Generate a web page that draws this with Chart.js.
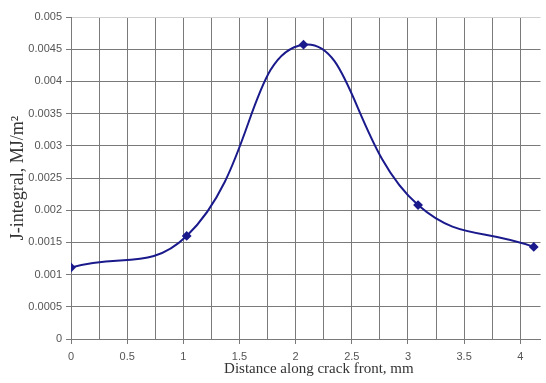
<!DOCTYPE html>
<html>
<head>
<meta charset="utf-8">
<script src="https://cdn.jsdelivr.net/npm/chart.js@4"></script>
<style>
  html, body { margin: 0; padding: 0; background: #fff; }
  #cont { width: 546px; height: 383px; }
</style>
</head>
<body>
<div id="cont"><canvas id="myChart"></canvas></div>
<script>
// distance along crack front (mm) and J-integral (MJ/m2)
const distancia = [0, 1.03, 2.07, 3.09, 4.12];
const integralJ = [0.00111, 0.0016, 0.00457, 0.00208, 0.00143];
const ticksX = [0, 0.5, 1, 1.5, 2, 2.5, 3, 3.5, 4];
const rejillaX = [0, 0.25, 0.5, 0.75, 1, 1.25, 1.5, 1.75, 2, 2.25, 2.5, 2.75, 3, 3.25, 3.5, 3.75, 4];
const ticksY = [0, 0.0005, 0.001, 0.0015, 0.002, 0.0025, 0.003, 0.0035, 0.004, 0.0045, 0.005];

const puntos = distancia.map((d, i) => ({ x: d, y: integralJ[i] }));

function esMayor(v) {
    return ticksX.some(t => Math.abs(t - v) < 1e-6);
}

const ctx = document.getElementById('myChart').getContext('2d');
const myChart = new Chart(ctx, {
    type: 'scatter',
    data: {
        datasets: [{
            data: puntos,
            showLine: true,
            borderColor: '#1a1a8c',
            backgroundColor: '#1a1a8c',
            borderWidth: 2,
            tension: 0.45,
            pointStyle: 'rectRot',
            pointRadius: 3.5,
            pointHoverRadius: 3.5
        }]
    },
    options: {
        responsive: true,
        maintainAspectRatio: false,
        animation: false,
        layout: { padding: { top: 17, right: 0, left: 0, bottom: 0 } },
        plugins: {
            legend: { display: false },
            tooltip: { enabled: false }
        },
        scales: {
            x: {
                type: 'linear',
                min: 0,
                max: 4.18,
                afterBuildTicks: s => { s.ticks = rejillaX.map(v => ({ value: v })); },
                ticks: {
                    autoSkip: false,
                    maxRotation: 0,
                    color: '#555',
                    font: { family: 'Liberation Sans', size: 11 },
                    padding: 6,
                    callback: v => esMayor(v) ? String(v) : ''
                },
                grid: {
                    color: '#7a7a7a',
                    tickColor: c => esMayor(c.tick.value) ? '#7a7a7a' : 'rgba(0,0,0,0)',
                    tickLength: 5
                },
                border: { color: '#7a7a7a' },
                title: {
                    display: true,
                    // espacios delante para correr el titulo a la derecha
                    text: '\u00a0\u00a0\u00a0\u00a0\u00a0\u00a0\u00a0Distance along crack front, mm',
                    color: '#333',
                    font: { family: 'Liberation Serif', size: 15 },
                    padding: { top: 0, bottom: 5 }
                },
                afterFit: s => { s.height = 44; }
            },
            y: {
                min: 0,
                max: 0.005,
                afterBuildTicks: s => { s.ticks = ticksY.map(v => ({ value: v })); },
                ticks: {
                    color: '#555',
                    font: { family: 'Liberation Sans', size: 11 },
                    padding: 4,
                    callback: v => String(Number(v.toFixed(4)))
                },
                grid: {
                    color: c => c.tick.value >= 0.005 ? '#d0d0d0' : '#7a7a7a',
                    tickColor: '#7a7a7a',
                    tickLength: 5
                },
                border: { color: '#7a7a7a' },
                title: {
                    display: true,
                    text: 'J-integral, MJ/m²',
                    color: '#333',
                    font: { family: 'Liberation Serif', size: 18 },
                    padding: { top: 7, bottom: 0 }
                },
                afterFit: s => { s.width = 71; }
            }
        }
    }
});
</script>
</body>
</html>
